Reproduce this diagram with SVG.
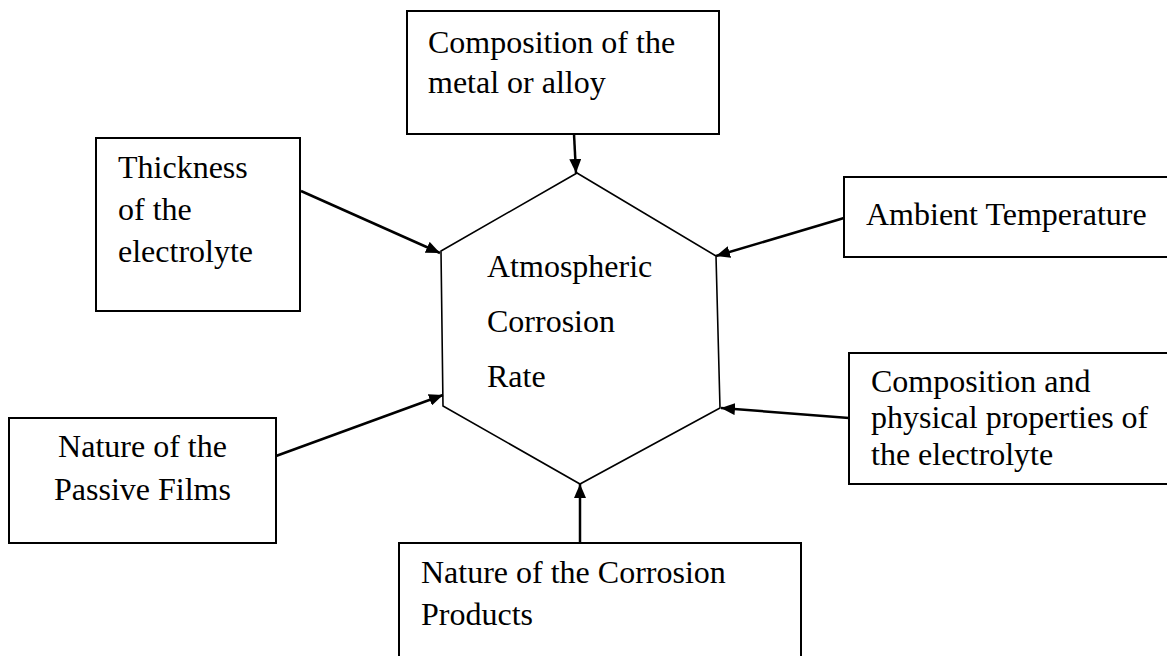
<svg xmlns="http://www.w3.org/2000/svg" width="1167" height="656" viewBox="0 0 1167 656">
<style>
  .box { fill: #fff; stroke: #000; stroke-width: 2; }
  .hex { fill: #fff; stroke: #000; stroke-width: 1.6; }
  .t { font-family: "Liberation Serif", "Times New Roman", serif; font-size: 32px; fill: #000; }
  .c { text-anchor: middle; }
  .conn line { stroke: #000; stroke-width: 2.5; marker-end: url(#ah); }
</style>
<defs>
  <marker id="ah" markerUnits="userSpaceOnUse" markerWidth="14" markerHeight="12" refX="14" refY="6" orient="auto">
    <path d="M0,0 L14,6 L0,12 z" fill="#000"/>
  </marker>
</defs>
<rect width="1167" height="656" fill="#fff"/>

<g id="hexagon">
  <polygon class="hex" points="577,173 716,256 720,408 580,484 443,406 441,251"/>
  <text class="t" x="487" y="277">Atmospheric</text>
  <text class="t" x="487" y="332">Corrosion</text>
  <text class="t" x="487" y="387">Rate</text>
</g>

<g id="composition-metal">
  <rect class="box" x="407" y="11" width="312" height="123"/>
  <text class="t" x="428" y="53">Composition of the</text>
  <text class="t" x="428" y="93">metal or alloy</text>
</g>

<g id="thickness">
  <rect class="box" x="96" y="138" width="204" height="173"/>
  <text class="t" x="118" y="178">Thickness</text>
  <text class="t" x="118" y="220">of the</text>
  <text class="t" x="118" y="262">electrolyte</text>
</g>

<g id="ambient">
  <rect class="box" x="844" y="177" width="340" height="80"/>
  <text class="t" x="866" y="225">Ambient Temperature</text>
</g>

<g id="passive-films">
  <rect class="box" x="9" y="418" width="267" height="125"/>
  <text class="t c" x="142.5" y="457">Nature of the</text>
  <text class="t c" x="142.5" y="500">Passive Films</text>
</g>

<g id="electrolyte-properties">
  <rect class="box" x="849" y="353" width="340" height="131"/>
  <text class="t" x="871" y="392">Composition and</text>
  <text class="t" x="871" y="428">physical properties of</text>
  <text class="t" x="871" y="465">the electrolyte</text>
</g>

<g id="corrosion-products">
  <rect class="box" x="399" y="543" width="402" height="130"/>
  <text class="t" x="421" y="583">Nature of the Corrosion</text>
  <text class="t" x="421" y="625">Products</text>
</g>

<g id="connectors" class="conn">
  <line x1="574" y1="134" x2="576" y2="173"/>
  <line x1="301" y1="191" x2="440" y2="253"/>
  <line x1="844" y1="218" x2="716" y2="256"/>
  <line x1="276" y1="456" x2="443" y2="395"/>
  <line x1="849" y1="418" x2="721" y2="408"/>
  <line x1="580" y1="543" x2="580" y2="484"/>
</g>
</svg>
